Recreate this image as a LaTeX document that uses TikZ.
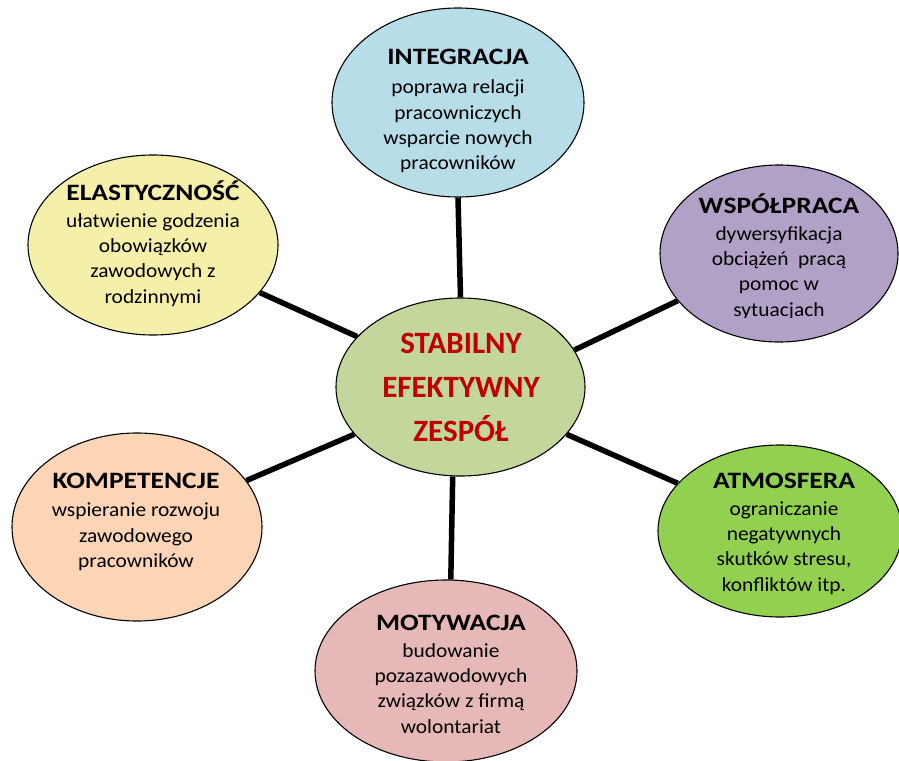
\documentclass[tikz,border=0pt]{standalone}
\usepackage{fontspec}
\setmainfont{Carlito}
\newfontfamily\ttlfont[FakeStretch=1.17]{Carlito}
\newfontfamily\bodyfont[FakeStretch=1.07]{Carlito}
\usetikzlibrary{shapes.geometric}
\definecolor{cInteg}{HTML}{B7DEE8}
\definecolor{cWspol}{HTML}{B2A1C7}
\definecolor{cAtmos}{HTML}{92D050}
\definecolor{cElast}{HTML}{F4F0AA}
\definecolor{cKompet}{HTML}{FBD5B5}
\definecolor{cMotiv}{HTML}{E6B9B8}
\definecolor{cCore}{HTML}{C3D69B}
\definecolor{cRed}{HTML}{C00000}
\tikzset{
  bubble/.style={ellipse, draw=black, line width=1.1pt, inner sep=0pt},
  link/.style={line width=5.5pt, draw=black},
  ttl/.style={font=\ttlfont\bfseries\fontsize{23.5}{28}\selectfont, inner sep=0pt, anchor=base},
  body/.style={font=\bodyfont\fontsize{20}{25.4}\selectfont, align=center, inner sep=0pt, anchor=north},
  coretxt/.style={font=\bfseries\fontsize{31}{44}\selectfont, text=cRed, align=center, inner sep=0pt, anchor=north},
}
\begin{document}
\begin{tikzpicture}[x=1pt,y=-1pt]
\useasboundingbox[fill=white] (0,0) rectangle (899,760);
% bubbles
\node[bubble, fill=cInteg, minimum width=252pt, minimum height=189pt] (integ) at (458,102.5) {};
\node[bubble, fill=cWspol, minimum width=238pt, minimum height=177pt] (wspol) at (779,253.5) {};
\node[bubble, fill=cAtmos, minimum width=244pt, minimum height=172pt] (atmos) at (780,531) {};
\node[bubble, fill=cElast, minimum width=250pt, minimum height=180pt] (elast) at (153,245) {};
\node[bubble, fill=cKompet, minimum width=250pt, minimum height=188pt] (kompet) at (137,527) {};
\node[bubble, fill=cMotiv, minimum width=262pt, minimum height=182pt] (motiv) at (446,671) {};
\node[bubble, fill=cCore, minimum width=249pt, minimum height=178pt] (core) at (460.5,387) {};
% connectors
\draw[link] (integ.south) -- (core.north);
\draw[link] (core.18) -- (wspol.205);
\draw[link] (core.-24) -- (atmos.155);
\draw[link] (core.204) -- (kompet.23);
\draw[link] (core.154) -- (elast.-24);
\draw[link] (core.265) -- (motiv.87);
% texts
\node[ttl] (integT) at (458,64) {INTEGRACJA};
\begin{scope}
  \clip (300,70) rectangle (620,173);
  \node[body] (integB) at (458,75.7) {\strut poprawa relacji\\pracowniczych\\wsparcie nowych\\pracowników};
\end{scope}
\node[ttl] (wspolT) at (779,213) {WSPÓŁPRACA};
\begin{scope}
  \clip (640,220) rectangle (899,317);
  \node[body] (wspolB) at (779,222.2) {\strut dywersyfikacja\\obciążeń\ \ pracą\\pomoc w\\sytuacjach};
\end{scope}
\node[ttl] (atmosT) at (784,488) {ATMOSFERA};
\begin{scope}
  \clip (640,495) rectangle (899,595);
  \node[body] (atmosB) at (784,497.2) {\strut ograniczanie\\negatywnych\\skutków stresu,\\konfliktów itp.};
\end{scope}
\node[ttl] (elastT) at (153,200) {ELASTYCZNOŚĆ};
\begin{scope}
  \clip (0,205) rectangle (300,306.5);
  \node[body] (elastB) at (153,209.2) {\strut ułatwienie godzenia\\obowiązków\\zawodowych z\\rodzinnymi};
\end{scope}
\node[ttl] (kompetT) at (136,488) {KOMPETENCJE};
\node[body] (kompetB) at (136,498.7) {\strut wspieranie rozwoju\\zawodowego\\pracowników};
\node[ttl] (motivT) at (451,630) {MOTYWACJA};
\node[body] (motivB) at (451,639.2) {\strut budowanie\\pozazawodowych\\związków z firmą\\wolontariat};
\node[coretxt] (coreT) at (461,322.2) {\strut STABILNY\\EFEKTYWNY\\ZESPÓŁ};
\end{tikzpicture}
\end{document}
